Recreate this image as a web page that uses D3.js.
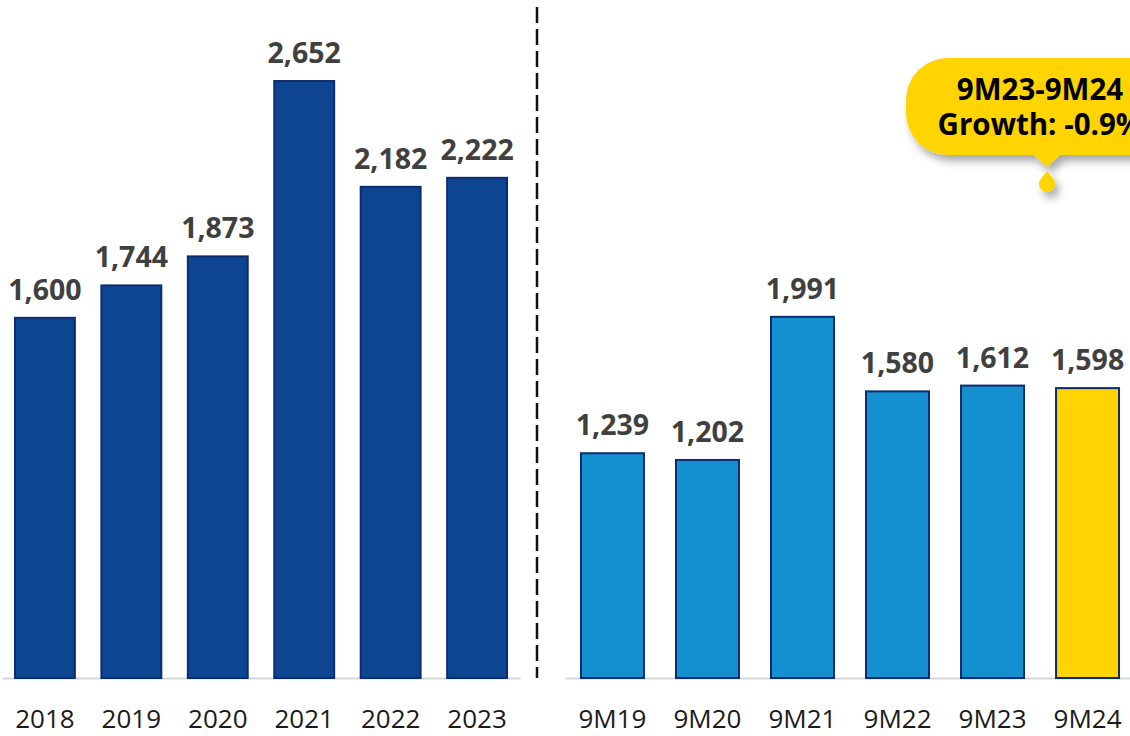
<!DOCTYPE html>
<html>
<head>
<meta charset="utf-8">
<script src="https://cdn.jsdelivr.net/npm/d3@7"></script>
<style>
  html, body { margin: 0; padding: 0; background: #ffffff; overflow: hidden; }
  svg { display: block; }
</style>
</head>
<body>
<svg id="chart" width="1130" height="736"></svg>
<script>
// ---- Data ----
const yearCategories = ["2018", "2019", "2020", "2021", "2022", "2023"];
const yearValues = [1600, 1744, 1873, 2652, 2182, 2222];
const ninemCategories = ["9M19", "9M20", "9M21", "9M22", "9M23", "9M24"];
const ninemValues = [1239, 1202, 1991, 1580, 1612, 1598];
const calloutLines = ["9M23-9M24", "Growth: -0.9%"];

// ---- Setup ----
const svg = d3.select("#chart");
const baseY = 678;
const fmt = d3.format(",");
const fontFamily = "'Open Sans', 'Noto Sans', sans-serif";

const defs = svg.append("defs");
const shadow = defs.append("filter").attr("id", "shadow")
  .attr("x", "-20%").attr("y", "-20%").attr("width", "150%").attr("height", "170%");
shadow.append("feDropShadow").attr("dx", 4).attr("dy", 6).attr("stdDeviation", 4)
  .attr("flood-color", "#000").attr("flood-opacity", 0.35);

function panel(cats, vals, xRange, yRangeTop, fillFn, paddingInner, paddingOuter) {
  const x = d3.scaleBand().domain(cats).range(xRange)
    .paddingInner(paddingInner).paddingOuter(paddingOuter);
  const y = d3.scaleLinear().domain([0, 3000]).range([baseY, yRangeTop]);
  const g = svg.append("g");

  const axis = d3.axisBottom(x).tickSize(0).tickPadding(0);
  const ag = g.append("g").attr("transform", `translate(0,${baseY})`).call(axis);
  ag.select(".domain").attr("stroke", "#d4d6da").attr("stroke-width", 2);
  ag.selectAll(".tick text")
    .attr("y", 50).attr("dy", 0)
    .attr("font-family", fontFamily).attr("font-size", 26)
    .attr("fill", "#1a1a1a");

  g.selectAll("rect.bar").data(cats).enter().append("rect")
    .attr("class", "bar")
    .attr("x", d => x(d))
    .attr("width", x.bandwidth())
    .attr("y", (d, i) => y(vals[i]))
    .attr("height", (d, i) => baseY - y(vals[i]))
    .attr("fill", (d, i) => fillFn(i))
    .attr("stroke", "#0b2c70").attr("stroke-width", 2);

  g.selectAll("text.val").data(cats).enter().append("text")
    .attr("class", "val")
    .attr("x", d => x(d) + x.bandwidth() / 2)
    .attr("y", (d, i) => y(vals[i]) - 18)
    .attr("text-anchor", "middle")
    .attr("font-family", fontFamily).attr("font-weight", 700).attr("font-size", 28.5)
    .attr("fill", "#404040")
    .text((d, i) => fmt(vals[i]));
  return { x, y };
}

panel(yearCategories, yearValues, [2, 520], 678 - 3000 * 0.2251,
  () => "#0e4590", 0.307, 0.15);
panel(ninemCategories, ninemValues, [565, 1135], 678 - 3000 * 0.1814,
  (i) => i === ninemValues.length - 1 ? "#ffd400" : "#1490d0", 0.337, 0.168);

// dashed separator
svg.append("line")
  .attr("x1", 537).attr("x2", 537).attr("y1", 7).attr("y2", baseY)
  .attr("stroke", "#111").attr("stroke-width", 2.5)
  .attr("stroke-dasharray", "16 6");

// callout
const cx = 1047;
const cg = svg.append("g").attr("filter", "url(#shadow)");
const bx0 = 906, bx1 = 1190, by0 = 58, by1 = 155, r = 42;
const p = d3.path();
p.moveTo(bx0 + r, by0);
p.lineTo(bx1 - r, by0);
p.arcTo(bx1, by0, bx1, by0 + r, r);
p.lineTo(bx1, by1 - r);
p.arcTo(bx1, by1, bx1 - r, by1, r);
p.lineTo(cx + 13, by1);
p.lineTo(cx, by1 + 12);
p.lineTo(cx - 13, by1);
p.lineTo(bx0 + r, by1);
p.arcTo(bx0, by1, bx0, by1 - r, r);
p.lineTo(bx0, by0 + r);
p.arcTo(bx0, by0, bx0 + r, by0, r);
p.closePath();
cg.append("path").attr("d", p.toString()).attr("fill", "#ffd400");
const dp = d3.path();
dp.moveTo(cx, 171);
dp.lineTo(cx + 6.5, 179);
dp.arc(cx, 184, 8, -Math.PI / 4, Math.PI + Math.PI / 4, false);
dp.closePath();
cg.append("path").attr("d", dp.toString()).attr("fill", "#ffd400");

svg.selectAll("text.callout").data(calloutLines).enter().append("text")
  .attr("class", "callout")
  .attr("x", 1040)
  .attr("y", (d, i) => 100 + i * 35)
  .attr("text-anchor", "middle")
  .attr("font-family", fontFamily).attr("font-weight", 700).attr("font-size", 29.5)
  .attr("fill", "#000")
  .text(d => d);
</script>
</body>
</html>
